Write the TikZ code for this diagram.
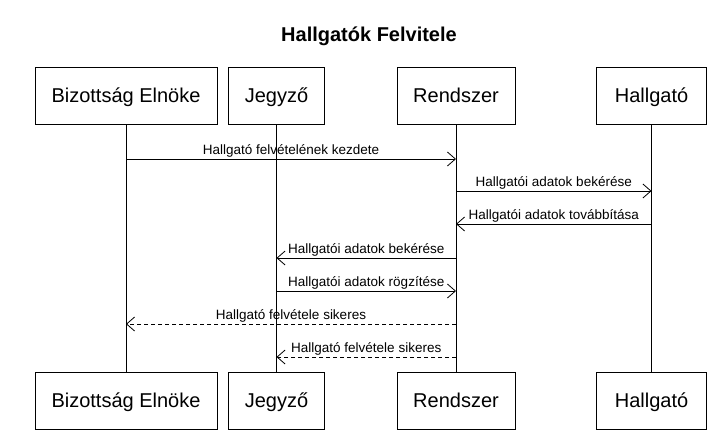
\documentclass[tikz,border=0pt]{standalone}
\usepackage{fontspec}
\setmainfont{Liberation Sans}
\usetikzlibrary{arrows.meta}
\begin{document}
\begin{tikzpicture}[x=1pt,y=-1pt,
  actor/.style={draw, line width=0.8pt, minimum height=57pt, inner sep=0pt, text height=14.3pt, text depth=0pt, font=\fontsize{20}{24}\selectfont},
  lifeline/.style={line width=0.8pt},
  msg/.style={line width=0.8pt, -{Straight Barb[length=8pt,width=14pt,line width=0.8pt]}},
  reply/.style={msg, dash pattern=on 4pt off 3pt},
  lbl/.style={font=\fontsize{13.5}{15}\selectfont, inner sep=0pt, anchor=base}
]
\useasboundingbox (0,0) rectangle (727,439);
\fill[white] (0,0) rectangle (727,439);
\node[font=\bfseries\fontsize{20}{24}\selectfont] (title) at (369,36) {Hallgatók Felvitele};
% top actors
\node[actor, minimum width=182pt] (bt) at (126,95.5) {Bizottság Elnöke};
\node[actor, minimum width=96pt] (jt) at (276.5,95.5) {Jegyző};
\node[actor, minimum width=118pt] (rt) at (456,95.5) {Rendszer};
\node[actor, minimum width=110pt] (ht) at (651.5,95.5) {Hallgató};
% bottom actors
\node[actor, minimum width=182pt] (bb) at (126,400.5) {Bizottság Elnöke};
\node[actor, minimum width=96pt] (jb) at (276.5,400.5) {Jegyző};
\node[actor, minimum width=118pt] (rb) at (456,400.5) {Rendszer};
\node[actor, minimum width=110pt] (hb) at (651.5,400.5) {Hallgató};
% lifelines
\draw[lifeline] (bt.south) -- (bb.north);
\draw[lifeline] (jt.south) -- (jb.north);
\draw[lifeline] (rt.south) -- (rb.north);
\draw[lifeline] (ht.south) -- (hb.north);
% message anchor points
\foreach \n/\y in {1/159,2/191,3/224,4/258,5/291,6/324,7/357}{
  \coordinate (b\n) at (bt.south |- 0,\y);
  \coordinate (j\n) at (jt.south |- 0,\y);
  \coordinate (r\n) at (rt.south |- 0,\y);
  \coordinate (h\n) at (ht.south |- 0,\y);
}
\draw[msg] (b1) -- node[lbl, yshift=5pt] {Hallgató felvételének kezdete} (r1);
\draw[msg] (r2) -- node[lbl, yshift=5pt] {Hallgatói adatok bekérése} (h2);
\draw[msg] (h3) -- node[lbl, yshift=5pt] {Hallgatói adatok továbbítása} (r3);
\draw[msg] (r4) -- node[lbl, yshift=5pt] {Hallgatói adatok bekérése} (j4);
\draw[msg] (j5) -- node[lbl, yshift=5pt] {Hallgatói adatok rögzítése} (r5);
\draw[reply] (r6) -- node[lbl, yshift=5pt] {Hallgató felvétele sikeres} (b6);
\draw[reply] (r7) -- node[lbl, yshift=5pt] {Hallgató felvétele sikeres} (j7);
\end{tikzpicture}
\end{document}
